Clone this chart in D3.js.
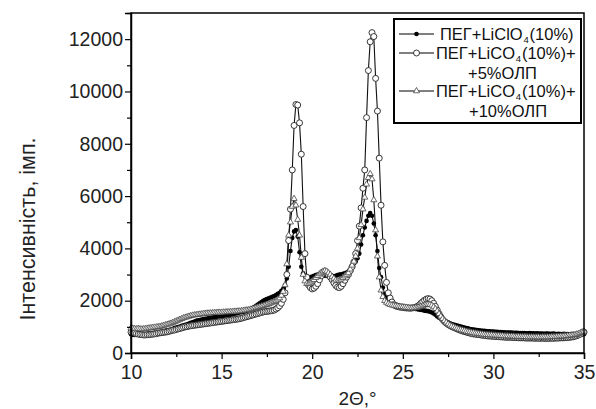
<!DOCTYPE html>
<html><head><meta charset="utf-8">
<script src="https://cdn.jsdelivr.net/npm/d3@7"></script>
<style>
html,body{margin:0;padding:0;background:#fff;}
svg{display:block;font-family:"Liberation Sans",Arial,sans-serif;}
</style></head>
<body>
<svg id="chart" width="596" height="409"></svg>
<script>
// scan: 2Θ from 10.0° to 35.0°, step 0.1°
const scanStart = 10.0, scanStep = 0.1;

const peg = [
720,700,690,710,700,690,700,720,710,730,
740,730,760,770,760,790,800,820,830,850,
870,880,900,920,950,970,990,1010,1040,1060,
1080,1100,1130,1150,1170,1200,1230,1250,1260,1280,
1300,1310,1320,1340,1350,1360,1370,1380,1390,1400,
1400,1410,1420,1440,1450,1460,1480,1500,1510,1530,
1550,1570,1580,1600,1620,1650,1680,1720,1760,1800,
1850,1900,1950,2000,2030,2060,2090,2120,2150,2180,
2220,2260,2300,2380,2450,2600,2850,3300,3900,4400,
4650,4700,4450,3850,3300,3050,2950,2900,2880,2900,
2920,2950,2980,3000,3020,3000,2980,2960,2950,2970,
2980,2950,2930,2950,2980,3000,3010,3030,3050,3080,
3100,3180,3300,3420,3500,3620,3800,4150,4500,4800,
5050,5250,5350,5250,4950,4500,3900,3250,2900,2500,
2250,2100,2000,1950,1900,1870,1850,1830,1800,1780,
1760,1750,1740,1720,1710,1700,1690,1680,1670,1660,
1650,1640,1620,1610,1600,1580,1550,1510,1460,1400,
1350,1310,1270,1230,1200,1170,1140,1110,1090,1070,
1050,1030,1010,990,970,950,940,920,910,900,
890,880,870,860,850,850,840,830,830,820,
820,810,810,800,800,790,790,780,780,780,
780,770,770,770,760,760,760,760,750,750,
760,750,750,740,750,740,740,740,730,740,
740,730,730,740,730,720,730,720,720,730,
720,720,710,720,720,710,720,720,730,730,
720];

const olp5 = [
800,780,760,740,720,710,700,690,690,700,
700,710,720,730,740,760,770,780,790,800,
810,830,850,870,880,900,920,940,960,980,
1000,1010,1030,1040,1050,1060,1070,1080,1090,1100,
1110,1120,1130,1140,1150,1160,1170,1180,1190,1200,
1210,1220,1230,1240,1250,1260,1270,1280,1290,1300,
1310,1330,1350,1370,1390,1410,1430,1450,1470,1490,
1510,1530,1550,1570,1580,1590,1600,1610,1620,1640,
1680,1730,1800,1900,2050,2300,3000,4300,5500,7000,
8700,9500,9480,8800,7600,5600,3800,2900,2600,2500,
2450,2480,2550,2650,2800,2950,3050,3100,3050,2980,
2900,2800,2680,2580,2520,2500,2550,2650,2780,2900,
3000,3150,3300,3480,3800,4300,4850,5550,6300,7000,
9000,10800,11900,12250,12100,10500,9250,7450,5650,4250,
3350,2700,2300,2100,1950,1850,1800,1780,1760,1750,
1740,1730,1720,1720,1710,1720,1730,1750,1780,1830,
1900,1960,2020,2060,2080,2060,2000,1900,1780,1640,
1500,1380,1280,1200,1140,1090,1050,1010,980,950,
920,890,860,840,820,800,780,760,740,730,
720,710,700,690,680,670,660,650,650,640,
640,630,630,620,620,610,610,600,600,600,
600,590,590,590,580,580,580,580,570,570,
570,570,570,560,570,560,560,570,560,560,
560,560,570,560,570,570,570,580,580,580,
590,590,600,610,620,640,660,690,720,760,
800];

const olp10 = [
950,940,930,920,930,920,910,920,930,940,
950,960,970,980,990,1000,1010,1030,1050,1070,
1090,1110,1130,1160,1190,1220,1250,1280,1310,1340,
1360,1380,1400,1420,1440,1450,1460,1470,1480,1490,
1500,1510,1520,1520,1530,1530,1540,1540,1550,1550,
1550,1560,1560,1570,1570,1580,1580,1590,1590,1600,
1600,1610,1620,1630,1640,1650,1670,1690,1710,1730,
1750,1770,1790,1810,1830,1850,1870,1900,1930,1960,
2000,2050,2100,2200,2350,2600,3400,4500,5000,5600,
5900,5650,5100,4500,3650,3000,2750,2650,2650,2700,
2750,2800,2880,2950,3020,3080,3120,3150,3120,3060,
3000,2920,2850,2780,2760,2780,2820,2880,2940,3000,
3060,3200,3350,3500,3700,4000,4400,4900,5500,5950,
6450,6700,6850,6650,5850,4700,3700,2900,2400,2150,
2000,1930,1880,1850,1830,1810,1800,1790,1780,1770,
1760,1750,1740,1730,1720,1720,1720,1730,1740,1760,
1780,1800,1830,1850,1860,1850,1820,1760,1690,1600,
1500,1400,1310,1230,1170,1110,1060,1020,990,960,
940,910,890,870,850,830,810,800,780,770,
760,750,740,730,720,710,700,700,690,690,
680,680,670,670,660,660,650,650,650,640,
640,640,630,630,630,620,620,620,620,610,
610,610,610,610,610,610,600,610,610,610,
610,610,620,620,620,630,630,640,640,650,
650,660,670,680,690,700,720,740,770,800,
830];

const xTicks = [10, 15, 20, 25, 30, 35];
const xMinor = [12.5, 17.5, 22.5, 27.5, 32.5];
const yTicks = [0, 2000, 4000, 6000, 8000, 10000, 12000];
const yMinor = [1000, 3000, 5000, 7000, 9000, 11000, 13000];
const xTitle = "2Θ,°";
const yTitle = "Інтенсивність, імп.";

const L = 131, R = 584, T = 13, B = 353;
const svg = d3.select("#chart");
const x = d3.scaleLinear().domain([10, 35]).range([L, R]);
const y = d3.scaleLinear().domain([0, 13000]).range([B, T]);

const toPts = arr => arr.map((v, i) => [scanStart + i * scanStep, v]);
const line = d3.line().x(d => x(d[0])).y(d => y(d[1]));

const series = [
  {data: toPts(peg), type: "dot"},
  {data: toPts(olp5), type: "circle"},
  {data: toPts(olp10), type: "tri"}
];

const plot = svg.append("g");
series.forEach(s => {
  plot.append("path").attr("d", line(s.data)).attr("fill", "none")
    .attr("stroke", "#111").attr("stroke-width", 1.1);
});
const triPath = d3.symbol(d3.symbolTriangle, 16)();
function drawMarkers(g, s) {
  if (s.type === "dot") {
    g.selectAll(null).data(s.data).join("circle")
      .attr("cx", d => x(d[0])).attr("cy", d => y(d[1])).attr("r", 2.3).attr("fill", "#000");
  } else if (s.type === "circle") {
    g.selectAll(null).data(s.data).join("circle")
      .attr("cx", d => x(d[0])).attr("cy", d => y(d[1])).attr("r", 3)
      .attr("fill", "#fff").attr("stroke", "#222").attr("stroke-width", 0.9);
  } else {
    g.selectAll(null).data(s.data).join("path").attr("d", triPath)
      .attr("transform", d => `translate(${x(d[0])},${y(d[1])})`)
      .attr("fill", "#fff").attr("stroke", "#444").attr("stroke-width", 0.8);
  }
}
series.forEach(s => drawMarkers(plot.append("g"), s));

// frame
svg.append("rect").attr("x", L).attr("y", T).attr("width", R - L).attr("height", B - T)
  .attr("fill", "none").attr("stroke", "#000").attr("stroke-width", 1.5);

// axes
const xAxis = svg.append("g").attr("transform", `translate(0,${B})`)
  .call(d3.axisBottom(x).tickValues(xTicks).tickSize(6).tickFormat(d3.format("d")));
svg.append("g").attr("transform", `translate(0,${B})`)
  .call(d3.axisBottom(x).tickValues(xMinor).tickSize(4).tickFormat(""))
  .call(g => g.select(".domain").remove());
const yAxis = svg.append("g").attr("transform", `translate(${L},0)`)
  .call(d3.axisLeft(y).tickValues(yTicks).tickSize(6).tickFormat(d3.format("d")));
svg.append("g").attr("transform", `translate(${L},0)`)
  .call(d3.axisLeft(y).tickValues(yMinor).tickSize(4).tickFormat(""))
  .call(g => g.select(".domain").remove());
svg.selectAll(".domain").attr("stroke-width", 1.5);
svg.selectAll(".tick line").attr("stroke-width", 1.2);
svg.selectAll(".tick text").attr("font-family", "Liberation Sans, Arial, sans-serif");
xAxis.selectAll("text").attr("font-size", 19.5).attr("fill", "#222").attr("dy", "0.85em");
yAxis.selectAll("text").attr("font-size", 19.5).attr("fill", "#222").attr("x", -8);

svg.append("text").attr("x", (L + R) / 2).attr("y", 405).attr("text-anchor", "middle")
  .attr("font-size", 19).attr("fill", "#222").text(xTitle);
svg.append("text").attr("transform", "translate(35,229) rotate(-90)").attr("text-anchor", "middle")
  .attr("font-size", 21.5).attr("fill", "#222").text(yTitle);

// legend
const lg = svg.append("g");
lg.append("rect").attr("x", 394).attr("y", 19).attr("width", 187).attr("height", 104)
  .attr("fill", "#fff").attr("stroke", "#000").attr("stroke-width", 2);
const legendRows = [
  {type: "dot", y: 34, tx: 440, parts: ["ПЕГ+LiClO", "4", "(10%)"]},
  {type: "circle", y: 53, tx: 436, parts: ["ПЕГ+LiCO", "4", "(10%)+"], cont: "+5%ОЛП", cx: 468},
  {type: "tri", y: 91, tx: 436, parts: ["ПЕГ+LiCO", "4", "(10%)+"], cont: "+10%ОЛП", cx: 469}
];
const LF = 16.5;
legendRows.forEach(r => {
  lg.append("line").attr("x1", 399).attr("x2", 434).attr("y1", r.y).attr("y2", r.y)
    .attr("stroke", "#000").attr("stroke-width", 1.2);
  const g = lg.append("g").attr("transform", `translate(${416.5 - x(0)},${r.y - y(0)})`);
  drawMarkers(g, {data: [[0, 0]], type: r.type});
  let cx = r.tx;
  const t1 = lg.append("text").attr("x", cx).attr("y", r.y + 6).attr("font-size", LF).attr("fill", "#111").text(r.parts[0]);
  cx += t1.node().getComputedTextLength() + 0.8;
  const t2 = lg.append("text").attr("x", cx).attr("y", r.y + 8.5).attr("font-size", 9.5).attr("fill", "#111").text(r.parts[1]);
  cx += t2.node().getComputedTextLength() + 0.8;
  lg.append("text").attr("x", cx).attr("y", r.y + 6).attr("font-size", LF).attr("fill", "#111").text(r.parts[2]);
  if (r.cont) lg.append("text").attr("x", r.cx).attr("y", r.y + 26).attr("font-size", LF).attr("fill", "#111").text(r.cont);
});
</script>
</body></html>
